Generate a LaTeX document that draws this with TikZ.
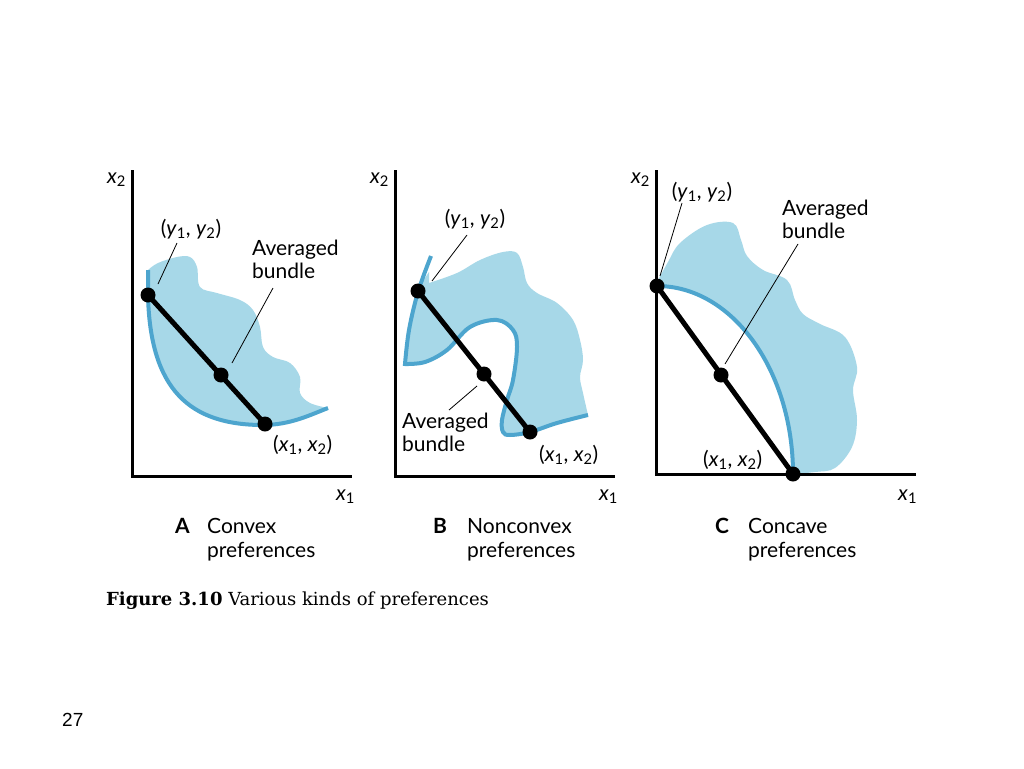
\documentclass[tikz,border=0pt]{standalone}
\usepackage{fontspec}
\setmainfont{Lato}
\newfontfamily\capfont{DejaVu Serif}
\newfontfamily\pagefont{Liberation Sans}
\newcommand\vv[2]{\textit{#1}\textsubscript{#2}}
\definecolor{fillblue}{HTML}{A7D8E8}
\definecolor{curveblue}{HTML}{4DA5CE}
\tikzset{
  ax/.style={line width=3pt, line join=miter},
  bcurve/.style={draw=curveblue, line width=4pt},
  fillb/.style={fill=fillblue},
  seg/.style={line width=5pt},
  dot/.style={circle, fill=black, inner sep=0pt, minimum size=15pt},
  lead/.style={line width=0.8pt},
  lbl/.style={font=\fontsize{21}{23}\selectfont, inner sep=0pt, align=left},
}
\begin{document}
\begin{tikzpicture}[x=1pt,y=-1pt]
\useasboundingbox[fill=white] (0,0) rectangle (1024,768);

% ================= Panel A =================
\fill[fillb] plot[smooth, tension=0.6] coordinates {(148,270) (158,263) (177,257) (190,257) (197,267) (200,287) (217,293) (240,300) (253,310) (260,327) (263,347) (273,357) (290,363) (300,377) (300,393) (310,403) (328,408)}
  .. controls (310,415) and (290,425) .. (263,425) .. controls (190,425) and (150,390) .. (148,295) -- cycle;
\draw[bcurve] (148,270) -- (148,295) .. controls (150,390) and (190,425) .. (263,425) .. controls (290,425) and (310,415) .. (328,408);
\draw[ax] (132,170) -- (132,476) -- (352,476);
\node[lbl, anchor=base west] (ax2) at (107,183) {\vv{x}{2}};
\node[lbl, anchor=base west] (ax1) at (336,500) {\vv{x}{1}};
\node[dot] (A1) at (148,295) {};
\node[dot] (A2) at (221,375) {};
\node[dot] (A3) at (265,424) {};
\draw[seg] (A1.center) -- (A3.center);
\node[lbl, anchor=base] (ay) at (191,235) {(\vv{y}{1}, \vv{y}{2})};
\coordinate (ay1) at (177,243); \coordinate (ay2) at (158,284);
\draw[lead] (ay1) -- (ay2);
\node[lbl, anchor=base west] (aavg) at (252,278) {Averaged\\bundle};
\coordinate (aa1) at (273,288); \coordinate (aa2) at (232,363);
\draw[lead] (aa1) -- (aa2);
\node[lbl, anchor=base west] (ax) at (273,451) {(\vv{x}{1}, \vv{x}{2})};
\node[lbl, anchor=base west, font=\fontsize{21}{24}\selectfont\bfseries] (capA) at (175,533) {A};
\node[lbl, anchor=base west, font=\fontsize{21}{24}\selectfont] (capAt) at (207,557) {Convex\\preferences};

% ================= Panel B =================
\fill[fillb] plot[smooth, tension=0.6] coordinates {(429,272) (418,292) (409,330) (405,364)}
  -- plot[smooth, tension=0.6] coordinates {(405,364) (425,362) (447,350) (470,327) (497,320) (513,330) (517,347) (513,380) (507,400) (502,420) (503,432) (510,435) (530,432) (557,423) (588,415)}
  -- plot[smooth, tension=0.6] coordinates {(588,415) (583,393) (580,377) (583,360) (580,340) (573,320) (557,303) (537,293) (527,283) (523,267) (517,253) (503,252) (480,260) (457,273) (429,283)} -- cycle;
\draw[bcurve] plot[smooth, tension=0.6] coordinates {(431,256) (418,292) (409,330) (405,364)}
  -- plot[smooth, tension=0.6] coordinates {(405,364) (425,362) (447,350) (470,327) (497,320) (513,330) (517,347) (513,380) (507,400) (502,420) (503,432) (510,435) (530,432) (557,423) (588,415)};
\draw[ax] (395,170) -- (395,476) -- (615,476);
\node[lbl, anchor=base west] (bx2) at (370,183) {\vv{x}{2}};
\node[lbl, anchor=base west] (bx1) at (599,500) {\vv{x}{1}};
\node[dot] (B1) at (418,291) {};
\node[dot] (B2) at (484,374) {};
\node[dot] (B3) at (530,432) {};
\draw[seg] (B1.center) -- (B3.center);
\node[lbl, anchor=base] (by) at (475,225) {(\vv{y}{1}, \vv{y}{2})};
\coordinate (by1) at (467,235); \coordinate (by2) at (432,281);
\draw[lead] (by1) -- (by2);
\node[lbl, anchor=base west] (bavg) at (402,451) {Averaged\\bundle};
\coordinate (ba1) at (477,386); \coordinate (ba2) at (449,410);
\draw[lead] (ba1) -- (ba2);
\node[lbl, anchor=base west] (bx) at (539,461) {(\vv{x}{1}, \vv{x}{2})};
\node[lbl, anchor=base west, font=\fontsize{21}{24}\selectfont\bfseries] (capB) at (433,533) {B};
\node[lbl, anchor=base west, font=\fontsize{21}{24}\selectfont] (capBt) at (467,557) {Nonconvex\\preferences};

% ================= Panel C =================
\fill[fillb] plot[smooth, tension=0.6] coordinates {(657,282) (668,262) (680,243) (707,225) (733,223) (741,240) (747,256) (763,270) (787,280) (795,300) (803,314) (820,324) (845,337) (857,367) (853,390) (857,420) (852,447) (835,468) (815,472) (793,474)}
  arc[start angle=0, end angle=-90, x radius=136, y radius=188] -- cycle;
\draw[bcurve] (793,474) arc[start angle=0, end angle=-90, x radius=136, y radius=188];
\draw[ax] (656,170) -- (656,474) -- (916,474);
\node[lbl, anchor=base west] (cx2) at (631,183) {\vv{x}{2}};
\node[lbl, anchor=base west] (cx1) at (898,500) {\vv{x}{1}};
\node[dot] (C1) at (657,286) {};
\node[dot] (C2) at (721,375) {};
\node[dot] (C3) at (793,474) {};
\draw[seg] (C1.center) -- (C3.center);
\node[lbl, anchor=base] (cy) at (702,198) {(\vv{y}{1}, \vv{y}{2})};
\coordinate (cy1) at (682,203); \coordinate (cy2) at (660,276);
\draw[lead] (cy1) -- (cy2);
\node[lbl, anchor=base west] (cavg) at (782,238) {Averaged\\bundle};
\coordinate (ca1) at (798,244); \coordinate (ca2) at (725,364);
\draw[lead] (ca1) -- (ca2);
\node[lbl, anchor=base west] (cx) at (703,466) {(\vv{x}{1}, \vv{x}{2})};
\node[lbl, anchor=base west, font=\fontsize{21}{24}\selectfont\bfseries] (capC) at (715,533) {C};
\node[lbl, anchor=base west, font=\fontsize{21}{24}\selectfont] (capCt) at (748,557) {Concave\\preferences};

% ================= Caption =================
\node[anchor=base west, inner sep=0pt, font=\capfont\fontsize{18}{20}\selectfont] (fig) at (106,605) {\textbf{Figure 3.10} Various kinds of preferences};
\node[anchor=base west, inner sep=0pt, font=\pagefont\fontsize{19}{22}\selectfont] (pg) at (62,726) {27};
\end{tikzpicture}
\end{document}
